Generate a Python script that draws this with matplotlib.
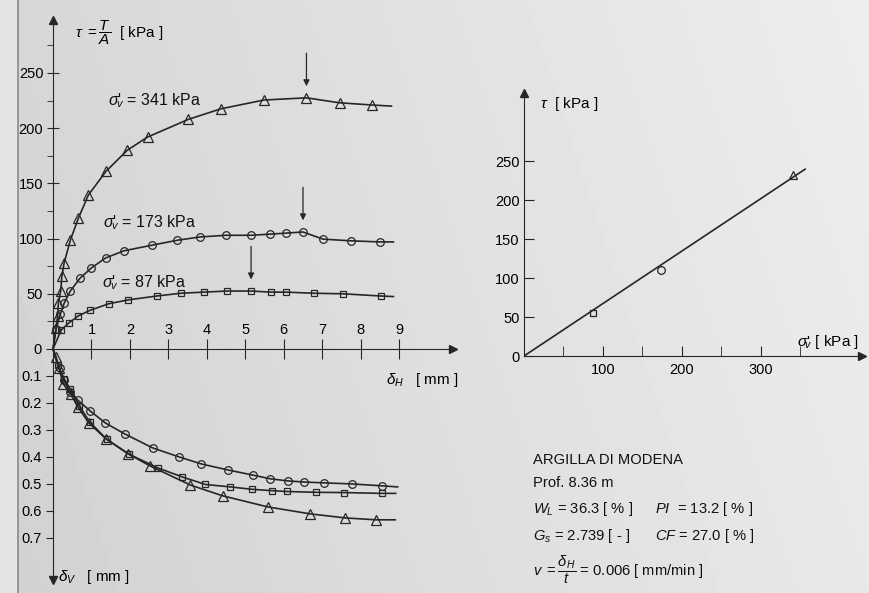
import numpy as np
import matplotlib.pyplot as plt

plt.rcParams['font.family'] = ['Liberation Sans', 'DejaVu Sans']
plt.rcParams['mathtext.fontset'] = 'custom'
plt.rcParams['mathtext.rm'] = 'Liberation Sans'
plt.rcParams['mathtext.it'] = 'Liberation Sans:italic'
plt.rcParams['mathtext.bf'] = 'Liberation Sans:bold'

# shear stress tau [kPa] vs horizontal displacement delta_H [mm]
dh_87 = [0, 0.21, 0.41, 0.66, 0.96, 1.45, 1.96, 2.70, 3.32, 3.92, 4.53, 5.15, 5.66, 6.07, 6.79, 7.54, 8.52, 8.85]
tau_87 = [0, 17, 23.5, 30, 35, 41, 44.5, 48, 50.5, 51.5, 52.5, 52.5, 51.5, 51.5, 50.5, 50, 48, 47.5]

dh_173 = [0, 0.08, 0.19, 0.29, 0.45, 0.70, 1.0, 1.37, 1.85, 2.57, 3.23, 3.83, 4.49, 5.14, 5.63, 6.07, 6.50, 7.02, 7.74, 8.49, 8.85]
tau_173 = [0, 18, 31.5, 41.5, 52.5, 64, 73.5, 82.5, 89, 94, 98.5, 101.5, 103, 103, 104, 105, 106, 99.5, 98, 97, 97]

dh_341 = [0, 0.08, 0.12, 0.14, 0.20, 0.23, 0.29, 0.45, 0.66, 0.92, 1.38, 1.93, 2.46, 3.52, 4.36, 5.48, 6.59, 7.45, 8.30, 8.8]
tau_341 = [0, 19, 30, 41.5, 52.5, 66, 78, 98.5, 118.5, 139.5, 161, 180, 192, 208, 217.5, 225.5, 227.5, 223, 221, 220]

# vertical displacement delta_V [mm] vs delta_H [mm]
dhv_87 = [0, 0.12, 0.29, 0.45, 0.68, 0.95, 1.40, 1.98, 2.73, 3.36, 3.96, 4.61, 5.18, 5.69, 6.08, 6.83, 7.57, 8.55, 8.91]
dv_87 = [0, 0.06, 0.11, 0.15, 0.21, 0.27, 0.335, 0.39, 0.441, 0.474, 0.502, 0.511, 0.52, 0.525, 0.528, 0.531, 0.532, 0.535, 0.535]

dhv_173 = [0, 0.17, 0.29, 0.43, 0.64, 0.97, 1.36, 1.87, 2.60, 3.28, 3.86, 4.54, 5.19, 5.65, 6.12, 6.53, 7.05, 7.77, 8.55, 8.96]
dv_173 = [0, 0.07, 0.115, 0.159, 0.189, 0.23, 0.274, 0.315, 0.367, 0.40, 0.426, 0.448, 0.467, 0.481, 0.489, 0.493, 0.496, 0.50, 0.507, 0.511]

dhv_341 = [0, 0.08, 0.15, 0.27, 0.46, 0.65, 0.93, 1.38, 1.96, 2.52, 3.57, 4.41, 5.58, 6.69, 7.60, 8.40, 8.9]
dv_341 = [0, 0.03, 0.07, 0.13, 0.167, 0.215, 0.274, 0.333, 0.389, 0.433, 0.504, 0.544, 0.585, 0.611, 0.626, 0.633, 0.633]

# peaks marked with arrows
peak_dh = [5.15, 6.50, 6.59]
peak_tau = [52.5, 106, 227.5]

# failure envelope
sig_v = [87, 173, 341]
tau_f = [55, 111, 232]
phi_deg = 34.0
sig_end = 356

W, H = 869, 593
ink = '#262626'
SIG = r"$\sigma$'$_{\!\!\!v}$"


def box(x0, y0, x1, y1):
    # pixel box (top-left origin) -> figure rect
    return [x0 / W, 1 - y1 / H, (x1 - x0) / W, (y1 - y0) / H]


def curve(ax, x, y, m, ms):
    ax.plot(x, y, color=ink, lw=1.2, marker=m, ms=ms, mfc='none', mec=ink,
            mew=0.9, markevery=list(range(1, len(x) - 1)), clip_on=False)


fig = plt.figure(figsize=(W / 100, H / 100), dpi=100)

# scanned-paper background
bg = fig.add_axes([0, 0, 1, 1], zorder=-10)
gx, gy = np.meshgrid(np.linspace(0, 1, 200), np.linspace(0, 1, 140))
bg.imshow(0.82 + 0.09 * gx + 0.02 * (1 - gy), cmap='gray', vmin=0, vmax=1,
          aspect='auto', interpolation='bilinear', extent=(0, W, H, 0))
bg.axvspan(0, 17, color='#e4e4e4')
bg.axvline(18, color='#8a8a8a', lw=1.2)
bg.set_xlim(0, W)
bg.set_ylim(H, 0)
bg.axis('off')

# ---------------- left panel: tau ----------------
ax_top = fig.add_axes(box(53, 20, 453, 349))
ax_top.set_facecolor('none')
ax_top.set_xlim(0, 10.4)
ax_top.set_ylim(0, 298)
for s in ['top', 'right', 'bottom']:
    ax_top.spines[s].set_visible(False)
ax_top.spines['left'].set_color(ink)
ax_top.set_xticks([])
ax_top.set_yticks([50, 100, 150, 200, 250])
ax_top.set_yticks([25, 75, 125, 175, 225, 275], minor=True)
ax_top.tick_params(axis='y', which='major', direction='inout', length=8, labelsize=10.5, color=ink, pad=3)
ax_top.tick_params(axis='y', which='minor', direction='out', length=4, color=ink)
ax_top.plot(0, 1, '^', color=ink, ms=6, transform=ax_top.get_xaxis_transform(), clip_on=False)

curve(ax_top, dh_87, tau_87, 's', 4.5)
curve(ax_top, dh_173, tau_173, 'o', 5.5)
curve(ax_top, dh_341, tau_341, '^', 6.5)

for x, t in zip(peak_dh, peak_tau):
    ax_top.annotate('', xy=(x, t + 8), xytext=(x, t + 43),
                    arrowprops=dict(arrowstyle='-|>', color=ink, lw=0.9, mutation_scale=9))

ax_top.text(1.43, 225, SIG + " = 341 kPa", fontsize=11.5, va='center', color='#111')
ax_top.text(1.30, 114, SIG + " = 173 kPa", fontsize=11.5, va='center', color='#111')
ax_top.text(1.27, 60, SIG + " = 87 kPa", fontsize=11.5, va='center', color='#111')

# ---------------- left panel: delta_V ----------------
ax_bot = fig.add_axes(box(53, 349, 453, 580))
ax_bot.set_facecolor('none')
ax_bot.set_xlim(0, 10.4)
ax_bot.set_ylim(0.856, 0)
for s in ['right', 'bottom']:
    ax_bot.spines[s].set_visible(False)
ax_bot.spines['left'].set_color(ink)
ax_bot.spines['top'].set_color(ink)
ax_bot.xaxis.tick_top()
ax_bot.set_xticks(range(1, 10))
ax_bot.tick_params(axis='x', direction='inout', length=14, pad=2, labelsize=10.5, color=ink)
ax_bot.set_yticks([0, 0.1, 0.2, 0.3, 0.4, 0.5, 0.6, 0.7])
ax_bot.set_yticklabels(['0', '0.1', '0.2', '0.3', '0.4', '0.5', '0.6', '0.7'])
ax_bot.tick_params(axis='y', direction='out', length=5, labelsize=10.5, color=ink, pad=3)
ax_bot.plot(1, 0, '>', color=ink, ms=6, transform=ax_bot.get_yaxis_transform(), clip_on=False)
ax_bot.plot(0, 0, 'v', color=ink, ms=6, transform=ax_bot.get_xaxis_transform(), clip_on=False)

curve(ax_bot, dhv_87, dv_87, 's', 4.5)
curve(ax_bot, dhv_173, dv_173, 'o', 5.5)
curve(ax_bot, dhv_341, dv_341, '^', 6.5)

fig.text(75 / W, 1 - 33 / H, r"$\tau\ = \dfrac{T}{A}$  [ kPa ]", fontsize=11, va='center')
fig.text(386 / W, 1 - 380 / H, r"$\delta_H$   [ mm ]", fontsize=11, va='center')
fig.text(58 / W, 1 - 577 / H, r"$\delta_V$   [ mm ]", fontsize=11, va='center')

# ---------------- right panel: envelope ----------------
ax_r = fig.add_axes(box(524, 93, 862, 356))
ax_r.set_facecolor('none')
ax_r.set_xlim(0, 428)
ax_r.set_ylim(0, 338)
for s in ['top', 'right']:
    ax_r.spines[s].set_visible(False)
ax_r.spines['left'].set_color(ink)
ax_r.spines['bottom'].set_color(ink)
ax_r.set_xticks([100, 200, 300])
ax_r.set_xticks([50, 150, 250, 350], minor=True)
ax_r.set_yticks([0, 50, 100, 150, 200, 250])
ax_r.tick_params(axis='both', which='both', direction='in', length=7, labelsize=10.5, color=ink)
ax_r.tick_params(axis='x', pad=5)
ax_r.tick_params(axis='y', pad=3)
ax_r.plot(1, 0, '>', color=ink, ms=6, transform=ax_r.transAxes, clip_on=False)
ax_r.plot(0, 1, '^', color=ink, ms=6, transform=ax_r.transAxes, clip_on=False)

ax_r.plot([0, sig_end], [0, sig_end * np.tan(np.radians(phi_deg))], color=ink, lw=1.2)
for s, t, m, ms in zip(sig_v, tau_f, ['s', 'o', '^'], [4.5, 5.5, 6]):
    ax_r.plot(s, t, m, ms=ms, mfc='none', mec=ink, mew=0.9)

fig.text(540 / W, 1 - 104 / H, r"$\tau$  [ kPa ]", fontsize=11, va='center')
fig.text(797 / W, 1 - 342 / H, SIG + " [ kPa ]", fontsize=11, va='center')

# ---------------- soil data ----------------
info = dict(fontsize=10.6, va='center', color='#111')
fig.text(533 / W, 1 - 460 / H, "ARGILLA DI MODENA", **info)
fig.text(533 / W, 1 - 483 / H, "Prof. 8.36 m", **info)
fig.text(533 / W, 1 - 509 / H, r"$W_L$ = 36.3 [ % ]", **info)
fig.text(655 / W, 1 - 509 / H, r"$PI$  = 13.2 [ % ]", **info)
fig.text(533 / W, 1 - 536 / H, r"$G_s$ = 2.739 [ - ]", **info)
fig.text(655 / W, 1 - 536 / H, r"$CF$ = 27.0 [ % ]", **info)
fig.text(533 / W, 1 - 570 / H, r"$v\ = \dfrac{\delta_H}{t}$ = 0.006 [ mm/min ]", **info)

fig.savefig('out.png', dpi=100)
